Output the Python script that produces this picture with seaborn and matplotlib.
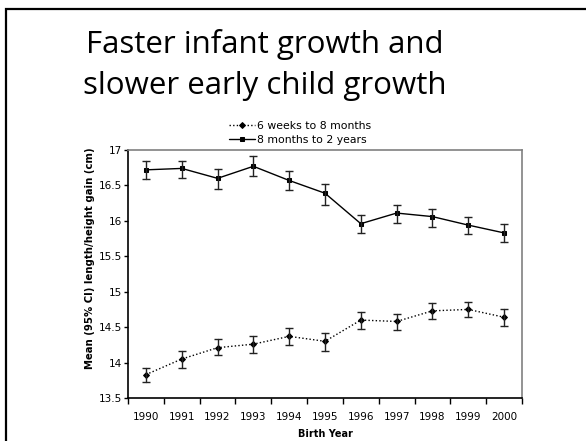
import numpy as np
import pandas as pd
import seaborn as sns
from matplotlib import pyplot as plt
from matplotlib.patches import Rectangle

years = list(range(1990, 2001))

# 6 weeks to 8 months
infant_mean = [13.83, 14.05, 14.21, 14.26, 14.37, 14.30, 14.60, 14.58, 14.73, 14.75, 14.64]
infant_lo = [13.72, 13.93, 14.10, 14.14, 14.25, 14.17, 14.48, 14.46, 14.62, 14.64, 14.52]
infant_hi = [13.93, 14.16, 14.33, 14.38, 14.49, 14.42, 14.71, 14.69, 14.84, 14.86, 14.75]

# 8 months to 2 years
child_mean = [16.72, 16.74, 16.60, 16.77, 16.57, 16.39, 15.96, 16.11, 16.06, 15.94, 15.83]
child_lo = [16.59, 16.60, 16.45, 16.63, 16.43, 16.23, 15.83, 15.97, 15.92, 15.82, 15.70]
child_hi = [16.84, 16.85, 16.73, 16.91, 16.71, 16.52, 16.08, 16.23, 16.17, 16.06, 15.95]

series_names = ['6 weeks to 8 months', '8 months to 2 years']

# long table: lower bound, mean, upper bound per year -> median = mean, 100% interval = CI
rows = []
for name, m, lo, hi in [(series_names[0], infant_mean, infant_lo, infant_hi),
                        (series_names[1], child_mean, child_lo, child_hi)]:
    for y, a, b, c in zip(years, lo, m, hi):
        rows += [(name, y, a), (name, y, b), (name, y, c)]
df = pd.DataFrame(rows, columns=['series', 'year', 'gain'])

sns.set_style('ticks')
plt.rcParams['font.family'] = ['DejaVu Sans']
plt.rcParams['text.color'] = 'black'
plt.rcParams['axes.labelcolor'] = 'black'
plt.rcParams['xtick.color'] = 'black'
plt.rcParams['ytick.color'] = 'black'

fig = plt.figure(figsize=(5.86, 4.41), dpi=100)
ax = fig.add_axes([128 / 586, 1 - 398 / 441, (522 - 128) / 586, (398 - 150) / 441])

sns.lineplot(data=df, x='year', y='gain', hue='series', style='series',
             hue_order=series_names, style_order=series_names,
             palette=['black', 'black'],
             markers={series_names[0]: 'D', series_names[1]: 's'},
             dashes={series_names[0]: (1, 1.6), series_names[1]: ''},
             estimator='median', errorbar=('pi', 100), err_style='bars',
             err_kws={'capsize': 3, 'elinewidth': 1, 'capthick': 1, 'ecolor': '#222222'},
             linewidth=1, markersize=3, markeredgecolor='black', ax=ax)

ax.set_xlim(1989.5, 2000.5)
ax.set_ylim(13.5, 17)
ax.set_xticks(years)
ax.set_xticklabels([str(y) for y in years])
ax.set_xticks(np.arange(1989.5, 2001, 1), minor=True)
ax.tick_params(axis='x', which='major', length=0, pad=10, labelsize=7.5)
ax.tick_params(axis='x', which='minor', length=4, width=1, direction='out', color='black')
ax.set_yticks([13.5, 14, 14.5, 15, 15.5, 16, 16.5, 17])
ax.set_yticklabels(['13.5', '14', '14.5', '15', '15.5', '16', '16.5', '17'])
ax.tick_params(axis='y', length=3, width=1, labelsize=7.5, pad=1, color='black')

ax.set_xlabel('Birth Year', fontsize=7, fontweight='bold', labelpad=5)
ax.set_ylabel('Mean (95% CI) length/height gain (cm)', fontsize=7.3, fontweight='bold')
ax.yaxis.set_label_coords(-0.084, 0.565)

for s in ['left', 'bottom']:
    ax.spines[s].set_color('black')
    ax.spines[s].set_linewidth(1.2)
for s in ['top', 'right']:
    ax.spines[s].set_color('#808080')
    ax.spines[s].set_linewidth(1.2)

handles, labels = ax.get_legend_handles_labels()
ax.get_legend().remove()
fig.legend(handles, labels, loc='center', bbox_to_anchor=(300 / 586, 1 - 133 / 441),
           frameon=False, fontsize=7.8, handlelength=2.4, handletextpad=0.2,
           labelspacing=0.35, borderpad=0)

fig.text(265 / 586, 1 - 45 / 441, 'Faster infant growth and', ha='center', va='center',
         fontsize=22.5, family='Open Sans', color='black')
fig.text(265 / 586, 1 - 86 / 441, 'slower early child growth', ha='center', va='center',
         fontsize=22.5, family='Open Sans', color='black')

# slide frame
fig.patches.append(Rectangle((6 / 586, -0.1), 1.2, 1 - 9 / 441 + 0.1, transform=fig.transFigure,
                             fill=False, edgecolor='black', linewidth=1.6))

fig.savefig('out.png', dpi=100)
